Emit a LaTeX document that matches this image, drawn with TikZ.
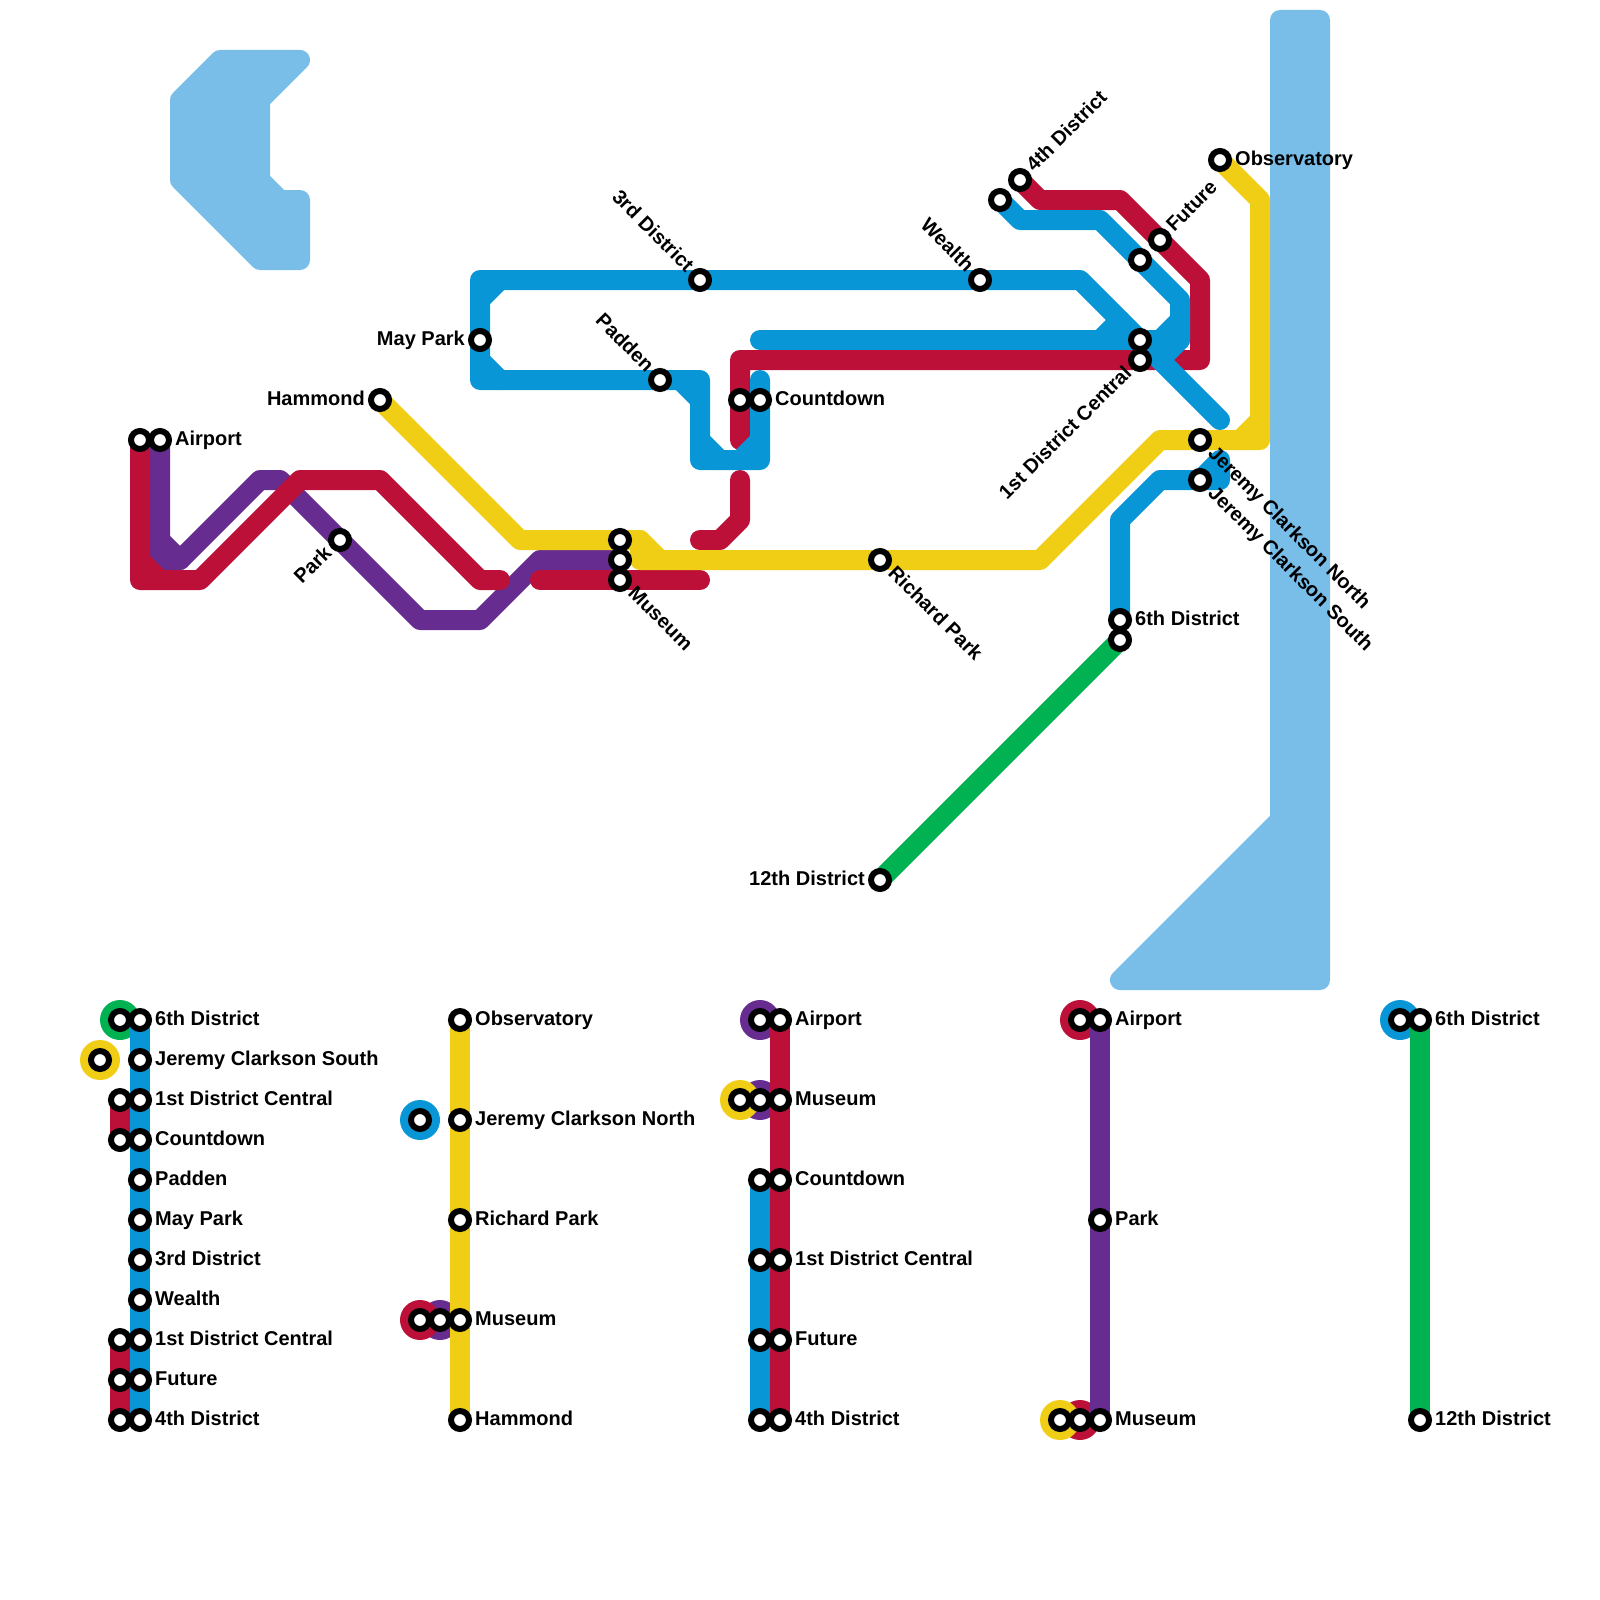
\documentclass[tikz,border=0pt]{standalone}
\usepackage{fontspec}
\setmainfont{Liberation Sans}
\usetikzlibrary{backgrounds}
\definecolor{bluecol}{HTML}{0896D7}
\definecolor{redcol}{HTML}{BD1038}
\definecolor{yellowcol}{HTML}{F0CE15}
\definecolor{purplecol}{HTML}{662C90}
\definecolor{greencol}{HTML}{00B251}
\definecolor{watercol}{HTML}{79BDE9}
\tikzset{
    station/.style={circle, draw=black, fill=white, line width=6pt, inner sep=0pt, minimum size=18pt},
    stoplabel/.style={inner sep=0pt, font=\fontsize{20pt}{22pt}\selectfont\bfseries},
    labelr/.style={stoplabel, anchor=base west, xshift=15pt, yshift=-5pt},
    labell/.style={stoplabel, anchor=base east, xshift=-15pt, yshift=-5pt},
    metro/.style={line width=20pt, line cap=round, line join=round},
    blueline/.style={metro, draw=bluecol},
    redline/.style={metro, draw=redcol},
    yellowline/.style={metro, draw=yellowcol},
    purpleline/.style={metro, draw=purplecol},
    greenline/.style={metro, draw=greencol},
    water/.style={draw=watercol, fill=watercol, line width=20pt, line join=round},
    xfer/.style={circle, inner sep=0pt, minimum size=40pt}
}
\begin{document}
\begin{tikzpicture}[x=20pt, y=-20pt]
\useasboundingbox (0,0) rectangle (80,80);
% map stations
\node[station] (airportr) at (7,22) {};
\node[station] (airportp) at (8,22) {};
\node[station] (park) at (17,27) {};
\node[station] (hammond) at (19,20) {};
\node[station] (maypark) at (24,17) {};
\node[station] (museumy) at (31,27) {};
\node[station] (museump) at (31,28) {};
\node[station] (museumr) at (31,29) {};
\node[station] (padden) at (33,19) {};
\node[station] (thirdd) at (35,14) {};
\node[station] (countr) at (37,20) {};
\node[station] (countb) at (38,20) {};
\node[station] (richard) at (44,28) {};
\node[station] (twelfth) at (44,44) {};
\node[station] (wealth) at (49,14) {};
\node[station] (fourthb) at (50,10) {};
\node[station] (fourthr) at (51,9) {};
\node[station] (sixthb) at (56,31) {};
\node[station] (sixthg) at (56,32) {};
\node[station] (firstb) at (57,17) {};
\node[station] (firstr) at (57,18) {};
\node[station] (futureb) at (57,13) {};
\node[station] (futurer) at (58,12) {};
\node[station] (jcnorth) at (60,22) {};
\node[station] (jcsouth) at (60,24) {};
\node[station] (observ) at (61,8) {};
% map labels
\node[labelr] (lairport) at (airportp) {Airport};
\node[rotate=45, labell] (lpark) at (park) {Park};
\node[labell] (lhammond) at (hammond) {Hammond};
\node[labell] (lmaypark) at (maypark) {May Park};
\node[rotate=-45, labelr] (lmuseum) at (museumr) {Museum};
\node[rotate=-45, labell] (lpadden) at (padden) {Padden};
\node[rotate=-45, labell] (lthirdd) at (thirdd) {3rd District};
\node[labelr] (lcount) at (countb) {Countdown};
\node[rotate=-45, labelr] (lrichard) at (richard) {Richard Park};
\node[labell] (ltwelfth) at (twelfth) {12th District};
\node[rotate=-45, labell] (lwealth) at (wealth) {Wealth};
\node[rotate=45, labelr] (lfourth) at (fourthr) {4th District};
\node[labelr] (lsixth) at (sixthb) {6th District};
\node[rotate=45, labell] (lfirst) at (firstr) {1st District Central};
\node[rotate=45, labelr] (lfuture) at (futurer) {Future};
\node[rotate=-45, labelr] (ljcnorth) at (jcnorth) {Jeremy Clarkson North};
\node[rotate=-45, labelr] (ljcsouth) at (jcsouth) {Jeremy Clarkson South};
\node[labelr] (lobserv) at (observ) {Observatory};
% free line ends
\coordinate (blueend) at (61,21);
\coordinate (bluehub) at (38,17);
\coordinate (bluetop) at (38,19);
\coordinate (redstub) at (37,22);
\coordinate (redhook) at (34,27);
\coordinate (redend) at (25,29);
\coordinate (midredw) at (27,29);
\coordinate (midrede) at (35,29);
% legend, blue column
\node[station] (a1) at (7,51) {};
\node[labelr] (la1) at (a1) {6th District};
\node[station] (a2) at (7,53) {};
\node[labelr] (la2) at (a2) {Jeremy Clarkson South};
\node[station] (a3) at (7,55) {};
\node[labelr] (la3) at (a3) {1st District Central};
\node[station] (a4) at (7,57) {};
\node[labelr] (la4) at (a4) {Countdown};
\node[station] (a5) at (7,59) {};
\node[labelr] (la5) at (a5) {Padden};
\node[station] (a6) at (7,61) {};
\node[labelr] (la6) at (a6) {May Park};
\node[station] (a7) at (7,63) {};
\node[labelr] (la7) at (a7) {3rd District};
\node[station] (a8) at (7,65) {};
\node[labelr] (la8) at (a8) {Wealth};
\node[station] (a9) at (7,67) {};
\node[labelr] (la9) at (a9) {1st District Central};
\node[station] (a10) at (7,69) {};
\node[labelr] (la10) at (a10) {Future};
\node[station] (a11) at (7,71) {};
\node[labelr] (la11) at (a11) {4th District};
\node[station] (axg) at (6,51) {};
\node[station] (axy) at (5,53) {};
\node[station] (axr1) at (6,55) {};
\node[station] (axr2) at (6,57) {};
\node[station] (axr3) at (6,67) {};
\node[station] (axr4) at (6,69) {};
\node[station] (axr5) at (6,71) {};
% legend, yellow column
\node[station] (b1) at (23,51) {};
\node[labelr] (lb1) at (b1) {Observatory};
\node[station] (b2) at (23,56) {};
\node[labelr] (lb2) at (b2) {Jeremy Clarkson North};
\node[station] (b3) at (23,61) {};
\node[labelr] (lb3) at (b3) {Richard Park};
\node[station] (b4) at (23,66) {};
\node[labelr] (lb4) at (b4) {Museum};
\node[station] (b5) at (23,71) {};
\node[labelr] (lb5) at (b5) {Hammond};
\node[station] (bxb) at (21,56) {};
\node[station] (bxr) at (21,66) {};
\node[station] (bxp) at (22,66) {};
% legend, red column
\node[station] (c1) at (39,51) {};
\node[labelr] (lc1) at (c1) {Airport};
\node[station] (c2) at (39,55) {};
\node[labelr] (lc2) at (c2) {Museum};
\node[station] (c3) at (39,59) {};
\node[labelr] (lc3) at (c3) {Countdown};
\node[station] (c4) at (39,63) {};
\node[labelr] (lc4) at (c4) {1st District Central};
\node[station] (c5) at (39,67) {};
\node[labelr] (lc5) at (c5) {Future};
\node[station] (c6) at (39,71) {};
\node[labelr] (lc6) at (c6) {4th District};
\node[station] (cxp1) at (38,51) {};
\node[station] (cxp2) at (38,55) {};
\node[station] (cxy) at (37,55) {};
\node[station] (cxb1) at (38,59) {};
\node[station] (cxb2) at (38,63) {};
\node[station] (cxb3) at (38,67) {};
\node[station] (cxb4) at (38,71) {};
% legend, purple column
\node[station] (d1) at (55,51) {};
\node[labelr] (ld1) at (d1) {Airport};
\node[station] (d2) at (55,61) {};
\node[labelr] (ld2) at (d2) {Park};
\node[station] (d3) at (55,71) {};
\node[labelr] (ld3) at (d3) {Museum};
\node[station] (dxr1) at (54,51) {};
\node[station] (dxr2) at (54,71) {};
\node[station] (dxy) at (53,71) {};
% legend, green column
\node[station] (e1) at (71,51) {};
\node[labelr] (le1) at (e1) {6th District};
\node[station] (e2) at (71,71) {};
\node[labelr] (le2) at (e2) {12th District};
\node[station] (exb) at (70,51) {};
\begin{scope}[on background layer]
% water
\draw[water] (11,3) -- (15,3) -- (13,5) -- (13,9) -- (14,10) -- (15,10) -- (15,13) -- (13,13) -- (9,9) -- (9,5) -- cycle;
\draw[water] (64,1) -- (66,1) -- (66,49) -- (56,49) -- (64,41) -- cycle;
% legend discs
\node[xfer, fill=purplecol] (dp1) at (cxp1) {};
\node[xfer, fill=purplecol] (dp2) at (cxp2) {};
\node[xfer, fill=purplecol] (dp3) at (bxp) {};
\node[xfer, fill=redcol] (dr1) at (bxr) {};
\node[xfer, fill=redcol] (dr2) at (dxr1) {};
\node[xfer, fill=redcol] (dr3) at (dxr2) {};
\node[xfer, fill=yellowcol] (dy1) at (axy) {};
\node[xfer, fill=yellowcol] (dy2) at (cxy) {};
\node[xfer, fill=yellowcol] (dy3) at (dxy) {};
\node[xfer, fill=bluecol] (db1) at (bxb) {};
\node[xfer, fill=bluecol] (db2) at (exb) {};
\node[xfer, fill=greencol] (dg1) at (axg) {};
% purple line
\draw[purpleline] (airportp.center) -- (8,27) -- (9,28) -- (13,24) -- (14,24) -- (park.center) -- (21,31) -- (24,31) -- (27,28) -- (museump.center);
\draw[purpleline] (8,27) -- (8,28) -- (9,28);
% red line
\draw[redline] (airportr.center) -- (7,29) -- (10,29) -- (15,24) -- (19,24) -- (24,29) -- (redend);
\draw[redline] (7,28) -- (8,29);
\draw[redline] (midredw) -- (museumr.center) -- (midrede);
\draw[redline] (fourthr.center) -- (52,10) -- (56,10) -- (futurer.center) -- (60,14) -- (60,18) -- (firstr.center) -- (37,18) -- (countr.center) -- (redstub);
\draw[redline] (37,24) -- (37,26) -- (36,27) -- (35,27);
% green line
\draw[greenline] (sixthg.center) -- (twelfth.center);
% blue line
\draw[blueline] (bluehub) -- (firstb.center) -- (59,17);
\draw[blueline] (55,17) -- (56,16);
\draw[blueline] (fourthb.center) -- (51,11) -- (55,11) -- (futureb.center) -- (59,15) -- (59,17) -- (58,18);
\draw[blueline] (59,16) -- (58,17);
\draw[blueline] (blueend) -- (firstb.center) -- (54,14) -- (wealth.center) -- (thirdd.center) -- (24,14) -- (maypark.center) -- (24,19) -- (padden.center) -- (35,19) -- (35,23) -- (38,23) -- (countb.center) -- (bluetop);
\draw[blueline] (24,15) -- (25,14);
\draw[blueline] (24,18) -- (25,19);
\draw[blueline] (34,19) -- (35,20);
\draw[blueline] (35,22) -- (36,23);
\draw[blueline] (38,22) -- (37,23);
\draw[blueline] (sixthb.center) -- (56,26) -- (58,24) -- (jcsouth.center) -- (61,24) -- (61,23) -- (jcsouth.center);
% yellow line
\draw[yellowline] (observ.center) -- (63,10) -- (63,22) -- (jcnorth.center) -- (58,22) -- (52,28) -- (richard.center) -- (32,28) -- (32,27) -- (museumy.center) -- (26,27) -- (hammond.center);
\draw[yellowline] (32,27) -- (33,28);
\draw[yellowline] (63,21) -- (62,22);
% legend lines
\draw[blueline] (a1.center) -- (a11.center);
\draw[redline] (axr1.center) -- (axr2.center);
\draw[redline] (axr3.center) -- (axr5.center);
\draw[yellowline] (b1.center) -- (b5.center);
\draw[redline] (c1.center) -- (c6.center);
\draw[blueline] (cxb1.center) -- (cxb4.center);
\draw[purpleline] (d1.center) -- (d3.center);
\draw[greenline] (e1.center) -- (e2.center);
\end{scope}
\end{tikzpicture}
\end{document}
